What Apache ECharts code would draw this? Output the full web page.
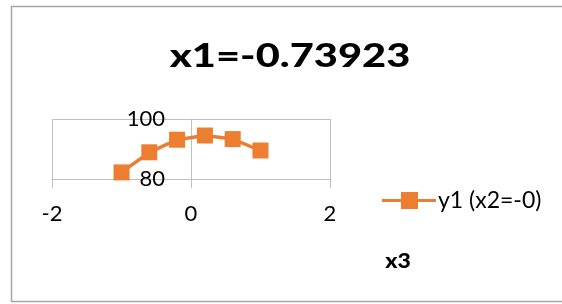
<!DOCTYPE html>
<html>
<head>
<meta charset="utf-8">
<script src="https://cdn.jsdelivr.net/npm/echarts@6/dist/echarts.min.js"></script>
<style>
  html, body { margin: 0; padding: 0; background: #fff; }
  #chart { width: 562px; height: 304px; }
</style>
</head>
<body>
<div id="chart"></div>
<script>
// 数据
const xValues = [-1, -0.6, -0.2, 0.2, 0.6, 1.0];
const yValues = [82.2, 88.9, 93.1, 94.5, 93.3, 89.5];
const xTicks = [-2, 0, 2];
const yTicks = [80, 100];

const titleText = 'x1=-0.73923';
const seriesName = 'y1 (x2=-0)';
const axisTitle = 'x3';

const orange = '#ED7D31';
const gridGray = '#BFBFBF';
const font = 'Lato, "Open Sans", sans-serif';

let points = xValues.map((x, i) => [x, yValues[i]]);

let chart = echarts.init(document.getElementById('chart'), null, { renderer: 'canvas' });

let option = {
  animation: false,
  backgroundColor: '#fff',
  legend: {
    left: 377,
    top: 184,
    itemWidth: 54,
    itemHeight: 17,
    itemGap: 4,
    textStyle: { fontFamily: font, fontSize: 23, color: '#000', padding: [0, 0, 0, -3] },
    data: [{ name: seriesName, icon: 'path://M0,7 L19,7 L19,0 L36,0 L36,7 L54,7 L54,10 L36,10 L36,17 L19,17 L19,10 L0,10 Z' }]
  },
  grid: { left: 52, right: 232, top: 119, bottom: 125 },
  xAxis: {
    type: 'value',
    min: xTicks[0],
    max: xTicks[xTicks.length - 1],
    interval: 2,
    axisLine: { show: true, onZero: false, lineStyle: { color: gridGray, width: 1 } },
    axisTick: { show: true, inside: false, length: 9, lineStyle: { color: gridGray } },
    axisLabel: { margin: 24, fontFamily: font, fontSize: 22, color: '#000' },
    splitLine: { show: true, lineStyle: { color: gridGray, width: 1 } }
  },
  yAxis: {
    type: 'value',
    min: yTicks[0],
    max: yTicks[yTicks.length - 1],
    interval: 20,
    offset: -139,
    axisLine: { show: true, onZero: false, lineStyle: { color: gridGray, width: 1 } },
    axisTick: { show: false },
    axisLabel: { margin: 26, fontFamily: font, fontSize: 22, color: '#000' },
    splitLine: { show: true, lineStyle: { color: gridGray, width: 1 } }
  },
  graphic: [
    {
      type: 'rect',
      shape: { x: 11.5, y: 6.5, width: 600, height: 295 },
      style: { fill: 'none', stroke: '#A6A6A6', lineWidth: 1.5 },
      silent: true
    },
    {
      // 标题 (横向拉伸以贴合原图)
      type: 'text',
      x: 290,
      y: 57,
      scaleX: 1.3,
      style: {
        text: titleText, x: 0, y: 0, align: 'center', verticalAlign: 'middle',
        fontFamily: font, fontWeight: 900, fontSize: 32, fill: '#000'
      }
    },
    {
      type: 'text',
      x: 398,
      y: 262,
      scaleX: 1.15,
      style: {
        text: axisTitle, x: 0, y: 0, align: 'center', verticalAlign: 'middle',
        fontFamily: font, fontWeight: 900, fontSize: 20, fill: '#000'
      }
    }
  ],
  series: [{
    name: seriesName,
    type: 'line',
    data: points,
    symbol: 'rect',
    symbolSize: 16,
    itemStyle: { color: orange },
    lineStyle: { color: orange, width: 3.5 }
  }]
};

chart.setOption(option);
</script>
</body>
</html>
